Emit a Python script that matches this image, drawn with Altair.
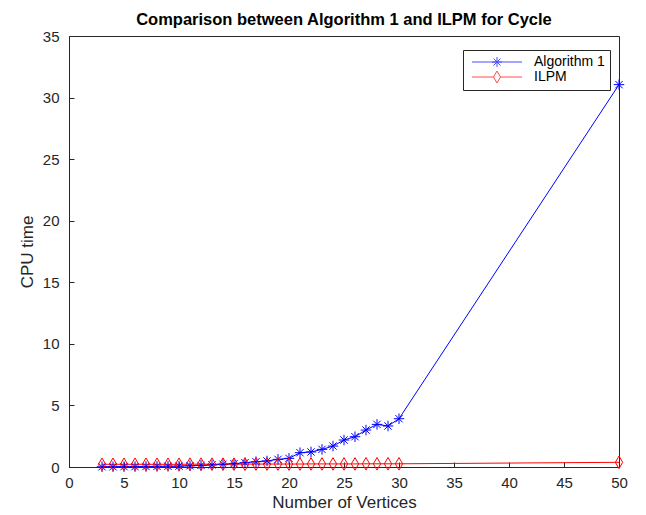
import altair as alt
import pandas as pd

# ---- data ----
vertices = list(range(3, 31)) + [50]
alg1 = [0.02, 0.02, 0.03, 0.03, 0.04, 0.05, 0.06, 0.07,
        0.10, 0.13, 0.17, 0.22, 0.27, 0.35, 0.43, 0.49, 0.62, 0.70,
        1.16, 1.22, 1.43, 1.70, 2.19, 2.46, 3.00, 3.46, 3.33, 3.92,
        31.05]
ilpm = [0.22, 0.22, 0.22, 0.22, 0.22, 0.22, 0.22, 0.22,
        0.23, 0.23, 0.23, 0.23, 0.23, 0.23, 0.24, 0.24, 0.24, 0.24,
        0.24, 0.25, 0.25, 0.25, 0.25, 0.25, 0.26, 0.26, 0.26, 0.26,
        0.38]
series_names = ["Algorithm 1", "ILPM"]
series_colors = ["#0000ff", "#ff0000"]

rows = []
for v, a in zip(vertices, alg1):
    rows.append({"n": v, "t": a, "series": "Algorithm 1"})
for v, b in zip(vertices, ilpm):
    rows.append({"n": v, "t": b, "series": "ILPM"})
df = pd.DataFrame(rows)

asterisk = "M-1,0L1,0M0,-1L0,1M-0.7,-0.7L0.7,0.7M-0.7,0.7L0.7,-0.7"
diamond = "M0,-1.2L0.7,0L0,1.2L-0.7,0Z"
leg_asterisk = "M-5,0L5,0" + asterisk
leg_diamond = "M-5,0L-0.7,0M0.7,0L5,0" + diamond

FONT = "Liberation Sans"

x_enc = alt.X("n:Q", scale=alt.Scale(domain=[0, 50], nice=False),
              axis=alt.Axis(values=list(range(0, 51, 5)), title="Number of Vertices",
                            grid=False, domain=False, offset=-5, tickSize=5,
                            tickColor="#262626", labelPadding=8, labelFlush=False,
                            titlePadding=4))
y_enc = alt.Y("t:Q", scale=alt.Scale(domain=[0, 35], nice=False),
              axis=alt.Axis(values=list(range(0, 36, 5)), title="CPU time",
                            grid=False, domain=False, offset=-5, tickSize=5,
                            tickColor="#262626", labelPadding=10, labelFlush=False,
                            titlePadding=6))

base = alt.Chart(df)

lines = base.mark_line(strokeWidth=1).encode(
    x=x_enc, y=y_enc,
    color=alt.Color("series:N", scale=alt.Scale(domain=series_names, range=series_colors), legend=None),
)

points = base.mark_point(filled=False, strokeWidth=1, size=110, opacity=1).encode(
    x="n:Q", y="t:Q",
    color=alt.Color("series:N", scale=alt.Scale(domain=series_names, range=series_colors), legend=None),
    shape=alt.Shape("series:N", scale=alt.Scale(domain=series_names, range=[asterisk, diamond]), legend=None),
)

leg = alt.Legend(
    title=None, orient="none", legendX=394, legendY=14,
    strokeColor="#262626", fillColor="white", padding=5,
    symbolSize=100, symbolStrokeWidth=1, symbolOffset=22, labelOffset=30,
    labelFont=FONT, labelFontSize=14, labelColor="black", rowPadding=0,
)

legend_layer = base.transform_filter("datum.n < 0").mark_point(filled=False, strokeWidth=1, size=100).encode(
    x="n:Q", y="t:Q",
    color=alt.Color("series:N", scale=alt.Scale(domain=series_names, range=series_colors), legend=leg),
    shape=alt.Shape("series:N", scale=alt.Scale(domain=series_names, range=[leg_asterisk, leg_diamond]), legend=leg),
)

chart = alt.layer(lines, points, legend_layer).resolve_scale(
    color="independent", shape="independent"
).properties(
    width=550, height=431,
    autosize="none",
    padding={"left": 61, "top": 28, "right": 19, "bottom": 45},
    title=alt.TitleParams("Comparison between Algorithm 1 and ILPM for Cycle",
                          font=FONT, fontSize=16.5, fontWeight="bold", color="black",
                          offset=1, frame="group"),
).configure_view(
    stroke="#262626", strokeWidth=1
).configure_axis(
    labelFont=FONT, labelFontSize=15, labelColor="#262626",
    titleFont=FONT, titleFontSize=17, titleColor="#262626", titleFontWeight="normal",
)

chart.save("out.html", embed_options={"renderer": "svg", "actions": False})
